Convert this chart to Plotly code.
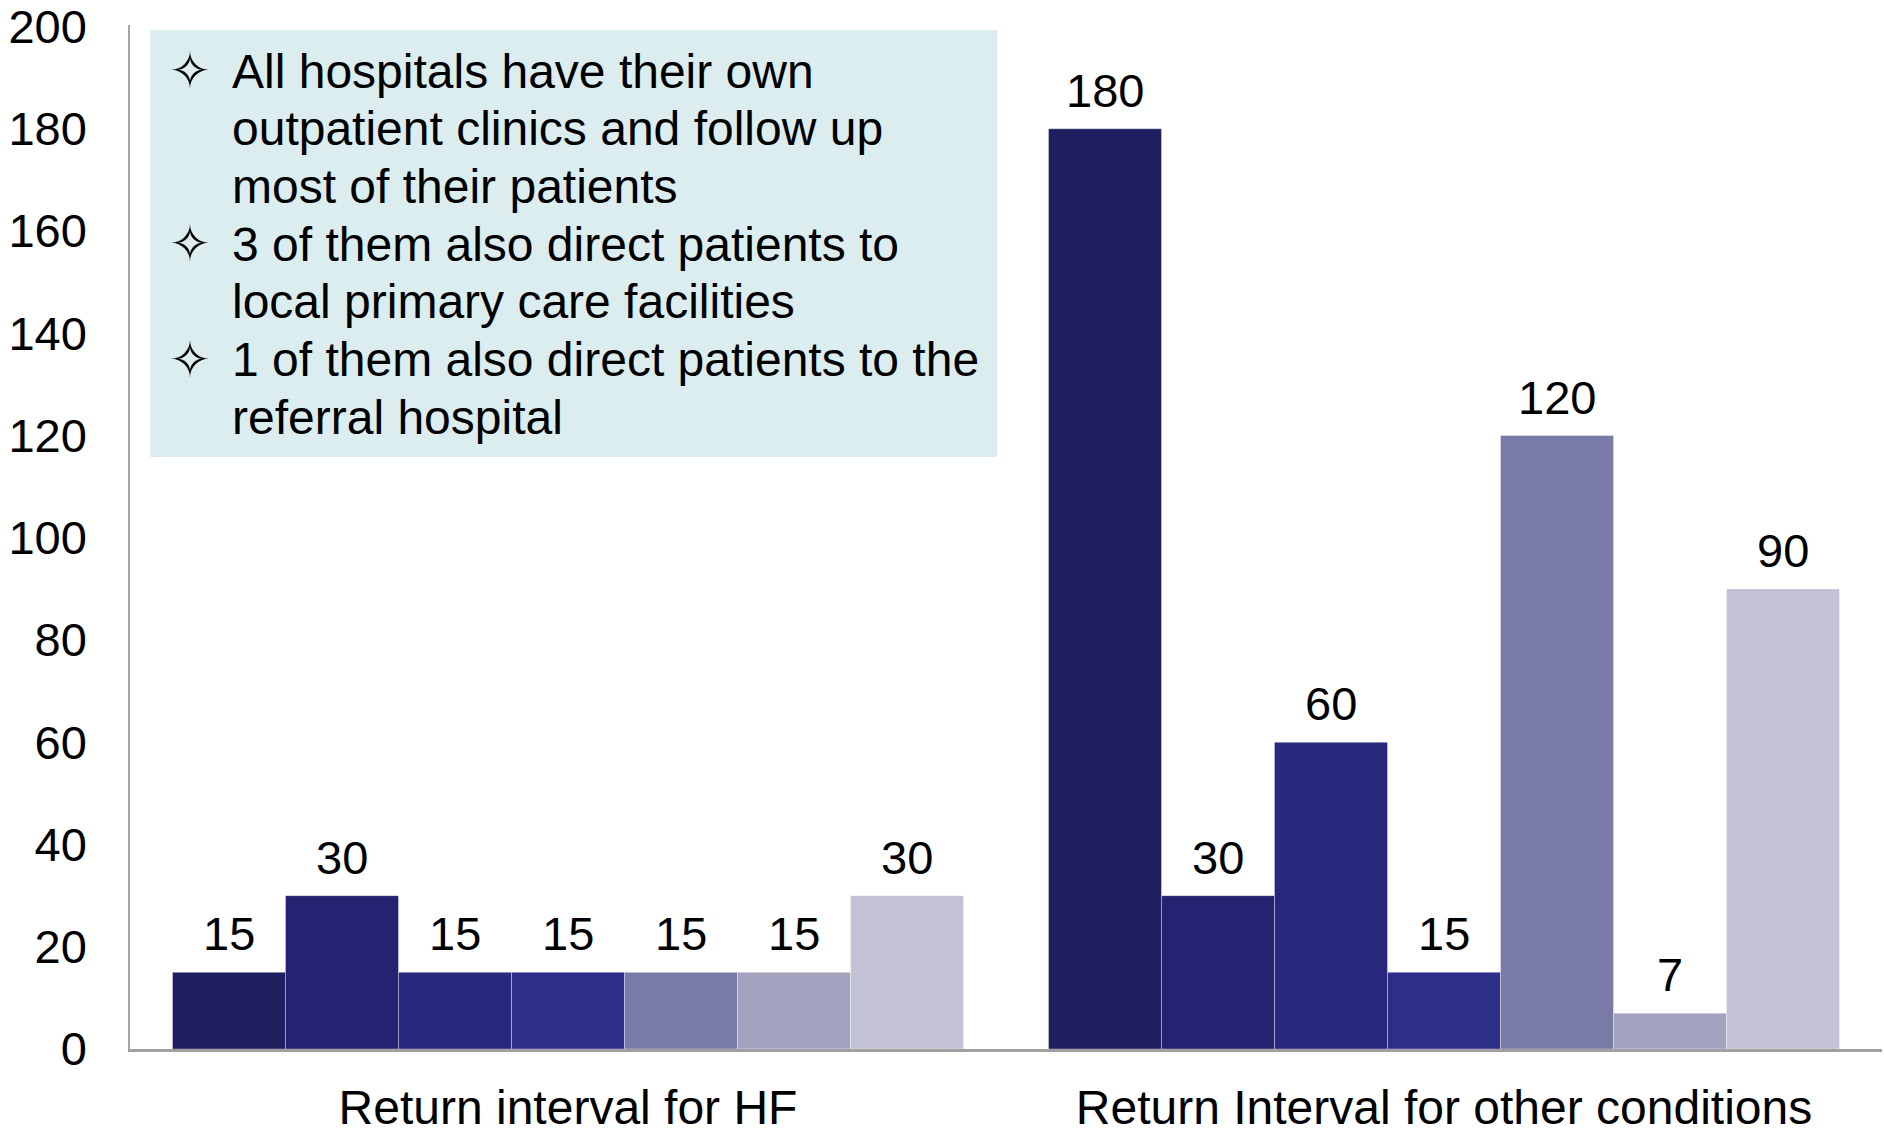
import plotly.graph_objects as go

# ---- data ----
categories = ["Return interval for HF", "Return Interval for other conditions"]
series_names = ["H1", "H2", "H3", "H4", "H5", "H6", "H7"]
series_values = [
    [15, 180],
    [30, 30],
    [15, 60],
    [15, 15],
    [15, 120],
    [15, 7],
    [30, 90],
]
colors = ["#1F1F5F", "#232371", "#28297D", "#2D2E89", "#7A7AA7", "#A3A3BF", "#C2C2D4"]
note_lines = [
    (True, "All hospitals have their own"),
    (False, "outpatient clinics and follow up"),
    (False, "most of their patients"),
    (True, "3 of them also direct patients to"),
    (False, "local primary care facilities"),
    (True, "1 of them also direct patients to the"),
    (False, "referral hospital"),
]
y_ticks = list(range(0, 201, 20))

W, H = 1884, 1138
L, R, T, B = 130, 2, 25, 89
PW, PH = W - L - R, H - T - B
FONT = "Arial, Liberation Sans, sans-serif"
FS = 47
BARGAP = 0.097

def px_x(p):
    return (p - L) / PW

def px_y(p):
    return (H - B - p) / PH

fig = go.Figure()
n = len(series_names)
for i, (name, vals, c) in enumerate(zip(series_names, series_values, colors)):
    fig.add_trace(go.Bar(
        x=categories, y=vals, name=name,
        marker=dict(color=c, line=dict(color="rgba(255,255,255,0.35)", width=1)),
        showlegend=False, hoverinfo="skip",
    ))

# value labels above bars
bw = (1 - BARGAP) / n
for i, vals in enumerate(series_values):
    for ci, v in enumerate(vals):
        fig.add_annotation(
            x=ci + (i - (n - 1) / 2) * bw, y=v, xref="x", yref="y",
            text=str(v), showarrow=False, yanchor="bottom", yshift=10,
            font=dict(family=FONT, size=47, color="black"),
        )

# note box
fig.add_shape(type="rect", xref="paper", yref="paper",
              x0=px_x(150), x1=px_x(997), y0=px_y(457), y1=px_y(30),
              fillcolor="#DBEDEE", line=dict(width=0), layer="below")
line_y0, line_dy = 71, 57.7
for k, (bullet, txt) in enumerate(note_lines):
    yc = px_y(line_y0 + k * line_dy)
    if bullet:
        fig.add_annotation(x=px_x(190), y=yc, xref="paper", yref="paper",
                           text="✧", showarrow=False, xanchor="center", yanchor="middle",
                           font=dict(family="DejaVu Sans", size=50, color="black"))
    fig.add_annotation(x=px_x(230), y=yc, xref="paper", yref="paper",
                       text=txt, showarrow=False, xanchor="left", yanchor="middle",
                       font=dict(family=FONT, size=48, color="black"))

fig.update_layout(
    width=W, height=H,
    margin=dict(l=L, r=R, t=T, b=B, autoexpand=False),
    paper_bgcolor="white", plot_bgcolor="white",
    barmode="group", bargap=BARGAP, bargroupgap=0,
    font=dict(family=FONT, size=FS, color="black"),
)
fig.update_yaxes(range=[0, 200.3], tickvals=y_ticks, ticktext=[str(v) for v in y_ticks],
                 showgrid=False, zeroline=False,
                 showline=True, linecolor="#A6A6A6", linewidth=1.5,
                 ticks="outside", ticklen=0, ticklabelstandoff=32,
                 ticklabeloverflow="allow", automargin=False,
                 tickfont=dict(family=FONT, size=FS, color="black"))
fig.update_xaxes(showgrid=False, showline=True, linecolor="#A0A0A0", linewidth=2.5,
                 ticks="", ticklabelstandoff=15, automargin=False,
                 tickfont=dict(family=FONT, size=48, color="black"))

fig.write_html("out.html", config={"displayModeBar": False},
               post_script="document.body.style.margin='0';")
